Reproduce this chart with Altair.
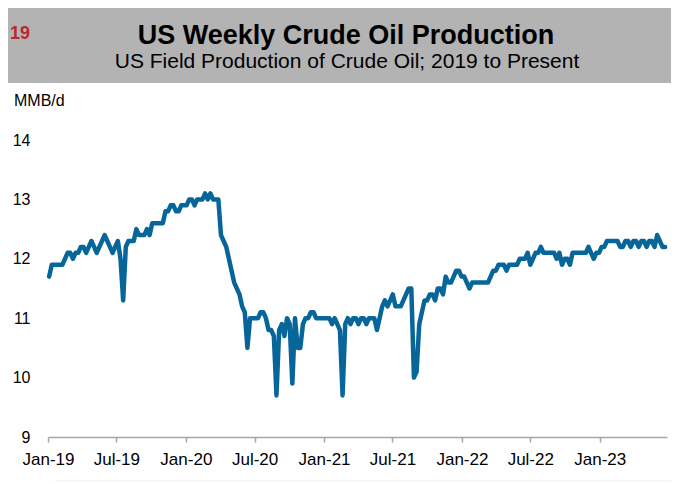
import altair as alt
import pandas as pd

# Weekly US field production of crude oil, million barrels per day (Fridays)
first_week = "2019-01-04"
prod_2019 = [11.7, 11.9, 11.9, 11.9, 11.9, 11.9, 12.0, 12.1, 12.1, 12.0,
             12.1, 12.1, 12.2, 12.2, 12.1, 12.2, 12.3, 12.2, 12.1, 12.2,
             12.3, 12.4, 12.3, 12.2, 12.1, 12.2, 12.3, 12.0, 11.3, 12.2,
             12.3, 12.3, 12.3, 12.5, 12.4, 12.4, 12.4, 12.5, 12.4, 12.6,
             12.6, 12.6, 12.6, 12.6, 12.8, 12.8, 12.9, 12.9, 12.8, 12.8,
             12.9, 12.9]
prod_2020 = [12.9, 13.0, 13.0, 12.9, 13.0, 13.0, 13.0, 13.1, 13.0, 13.1,
             13.0, 13.0, 13.0, 12.4, 12.3, 12.2, 12.0, 11.8, 11.6, 11.5,
             11.4, 11.2, 11.1, 10.5, 11.0, 11.0, 11.0, 11.0, 11.1, 11.1,
             11.0, 10.8, 10.8, 10.7, 9.7, 10.8, 10.9, 10.7, 11.0, 10.9,
             9.9, 11.0, 10.5, 10.5, 10.9, 11.0, 11.0, 11.1, 11.1, 11.0,
             11.0, 11.0]
prod_2021 = [11.0, 11.0, 11.0, 10.9, 11.0, 10.9, 10.8, 9.7, 10.9, 11.0,
             10.9, 11.0, 11.0, 10.9, 11.0, 11.0, 10.9, 11.0, 11.0, 11.0,
             10.8, 11.0, 11.2, 11.3, 11.2, 11.3, 11.4, 11.2, 11.2, 11.2,
             11.3, 11.4, 11.5, 11.5, 10.0, 10.1, 10.9, 11.1, 11.3, 11.3,
             11.4, 11.4, 11.3, 11.5, 11.5, 11.4, 11.7, 11.6, 11.6, 11.7,
             11.8, 11.8, 11.7]
prod_2022 = [11.7, 11.6, 11.5, 11.6, 11.6, 11.6, 11.6, 11.6, 11.6, 11.6,
             11.7, 11.8, 11.8, 11.9, 11.9, 11.9, 11.8, 11.9, 11.9, 11.9,
             11.9, 12.0, 12.0, 12.0, 12.1, 11.9, 12.0, 12.1, 12.1, 12.2,
             12.1, 12.1, 12.1, 12.1, 12.1, 12.0, 12.1, 11.9, 12.0, 12.0,
             11.9, 12.1, 12.1, 12.1, 12.1, 12.1, 12.1, 12.2, 12.1, 12.0,
             12.1, 12.1]
prod_2023 = [12.2, 12.2, 12.3, 12.3, 12.3, 12.3, 12.3, 12.2, 12.2, 12.3,
             12.3, 12.2, 12.3, 12.3, 12.2, 12.3, 12.3, 12.2, 12.3, 12.3,
             12.2, 12.4, 12.3, 12.2, 12.2]

y_ticks = [9, 10, 11, 12, 13, 14]
x_tick_dates = [(2019, 1), (2019, 7), (2020, 1), (2020, 7), (2021, 1),
                (2021, 7), (2022, 1), (2022, 7), (2023, 1)]

values = prod_2019 + prod_2020 + prod_2021 + prod_2022 + prod_2023
weeks = pd.date_range(first_week, periods=len(values), freq="7D")
df = pd.DataFrame({"week": weeks.strftime("%Y-%m-%d"), "mbd": values})

FONT = "Liberation Sans"
W, H = 619, 297

line = alt.Chart(df).mark_line(color="#066699", strokeWidth=4.5,
                               strokeJoin="round", strokeCap="round").encode(
    x=alt.X("week:T",
            scale=alt.Scale(domain=[alt.DateTime(year=2019, month=1, date=1),
                                    alt.DateTime(year=2023, month=6, date=28)]),
            axis=alt.Axis(values=[alt.DateTime(year=y, month=m, date=1) for y, m in x_tick_dates],
                          format="%b-%y", title=None, grid=False,
                          domainColor="#a6a6a6", domainWidth=1.5,
                          tickColor="#a6a6a6", tickWidth=1.5, tickSize=5,
                          labelFont=FONT, labelFontSize=17, labelColor="#000000",
                          labelPadding=9, labelFlush=False)),
    y=alt.Y("mbd:Q",
            scale=alt.Scale(domain=[9, 14], nice=False, zero=False),
            axis=alt.Axis(values=y_ticks, title=None, grid=False, domain=False,
                          ticks=False, tickSize=0, labelPadding=18,
                          labelFont=FONT, labelFontSize=16, labelColor="#000000")),
)

one = alt.Data(values=[{"k": 1}])

band = alt.Chart(one).mark_rect(color="#b3b3b3").encode(
    x=alt.value(-40), x2=alt.value(W + 4), y=alt.value(-132), y2=alt.value(-57))

num = alt.Chart(one).mark_text(text="19", font=FONT, fontSize=18, fontWeight="bold",
                               color="#c0272d", align="left", baseline="middle").encode(
    x=alt.value(-38), y=alt.value(-106))

title = alt.Chart(one).mark_text(text="US Weekly Crude Oil Production", font=FONT,
                                 fontSize=27, fontWeight="bold", color="#000000",
                                 align="center", baseline="middle").encode(
    x=alt.value(298), y=alt.value(-104))

subtitle = alt.Chart(one).mark_text(text="US Field Production of Crude Oil; 2019 to Present",
                                    font=FONT, fontSize=21, color="#000000",
                                    align="center", baseline="middle").encode(
    x=alt.value(299), y=alt.value(-78))

unit = alt.Chart(one).mark_text(text="MMB/d", font=FONT, fontSize=16, color="#000000",
                                align="left", baseline="middle").encode(
    x=alt.value(-34), y=alt.value(-39))

footer = alt.Chart(one).mark_rule(color="#eeeeee", strokeWidth=1).encode(
    x=alt.value(7), x2=alt.value(W + 4), y=alt.value(341))

chart = alt.layer(band, num, title, subtitle, unit, footer, line).properties(
    width=W, height=H,
    autosize=alt.AutoSizeParams(type="none"),
    padding={"left": 40, "top": 132, "right": 4, "bottom": 47},
    background="#ffffff",
).configure_view(stroke=None)

chart.save("out.html", embed_options={"renderer": "svg", "actions": False})
